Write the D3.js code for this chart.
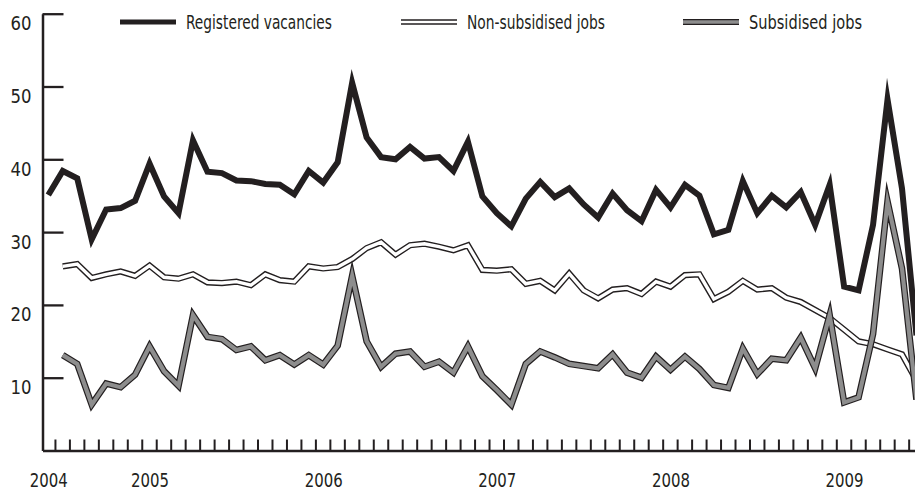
<!DOCTYPE html>
<html><head><meta charset="utf-8">
<script src="https://cdn.jsdelivr.net/npm/d3@7"></script>
<style>
body{margin:0;background:#fff}
svg{display:block}
text{font-family:"DejaVu Sans Condensed","DejaVu Sans",sans-serif;font-stretch:condensed;fill:#231f20}
</style>
</head><body>
<svg id="c" width="915" height="491"></svg>
<script>
// ---- data (monthly, June 2004 .. June 2009), thousands ----
const seriesNames = ["Registered vacancies", "Non-subsidised jobs", "Subsidised jobs"];
const vacancies = [35.1,38.4,37.4,29.0,33.1,33.3,34.3,39.4,34.9,32.6,42.6,38.3,38.1,37.1,37.0,36.6,36.5,35.2,38.4,36.8,
  39.6,50.5,43.0,40.3,40.0,41.7,40.1,40.3,38.4,42.4,34.9,32.6,30.8,34.6,36.9,34.8,36.0,33.8,32.0,35.3,
  33.0,31.5,35.8,33.4,36.5,35.0,29.7,30.3,37.0,32.6,35.0,33.4,35.5,31.0,36.5,22.5,22.0,31.0,48.2,36.0,15.8];
const nonSubsidised = [null,25.3,25.6,23.7,24.2,24.6,24.0,25.4,23.8,23.6,24.2,23.1,23.0,23.2,22.7,24.2,23.4,23.2,25.3,25.0,
  25.2,26.3,27.8,28.6,26.9,28.2,28.4,28.0,27.5,28.2,24.8,24.7,24.9,22.9,23.3,22.0,24.3,22.0,20.9,22.1,
  22.3,21.5,23.2,22.5,24.1,24.2,20.8,21.8,23.3,22.1,22.3,21.0,20.4,19.3,18.2,16.6,15.0,14.6,13.9,13.2,9.6];
const subsidised = [null,13.1,11.9,6.3,9.2,8.7,10.4,14.3,10.9,8.9,18.6,15.6,15.3,13.8,14.3,12.4,13.1,11.8,13.1,11.8,
  14.4,24.0,15.0,11.5,13.3,13.6,11.5,12.2,10.7,14.3,10.2,8.3,6.3,11.9,13.6,12.8,11.9,11.6,11.3,13.2,
  10.7,10.0,12.9,11.1,12.9,11.2,9.0,8.6,14.0,10.5,12.6,12.4,15.5,11.3,18.6,6.6,7.3,16.0,34.2,25.0,7.0];
const yearLabels = ["2004", "2005", "2006", "2007", "2008", "2009"];
const yearTickIndex = [0, 7, 19, 31, 43, 55];
const yTicks = [10, 20, 30, 40, 50, 60];

// ---- drawing ----
const INK = "#231f20", GREY = "#8d8d8d";
const svg = d3.select("#c");
const x = d3.scaleLinear().domain([-0.4, 60.5]).range([42.5, 923.7]);
const y = d3.scaleLinear().domain([0, 60]).range([450.5, 13.7]);

// y axis
const gy = svg.append("g").attr("transform", "translate(42.5,0)")
  .call(d3.axisLeft(y).tickValues(yTicks).tickSizeInner(-21).tickSizeOuter(0).tickPadding(11));
gy.select(".domain").attr("stroke", INK).attr("stroke-width", 2.5);
gy.selectAll(".tick line").attr("stroke", INK).attr("stroke-width", 2.3);
gy.selectAll(".tick text").style("font-size", "20px").attr("dy", "0.8em")
  .attr("textLength", 21).attr("lengthAdjust", "spacingAndGlyphs");

// x axis: monthly minor ticks
const monthTicks = vacancies.slice(1).map((_, k) => k + 0.46);
const gx = svg.append("g").attr("transform", "translate(0,450.5)")
  .call(d3.axisBottom(x).tickValues(monthTicks).tickSizeInner(-11).tickSizeOuter(0).tickFormat(""));
gx.select(".domain").attr("stroke", INK).attr("stroke-width", 2.5);
gx.selectAll(".tick line").attr("stroke", INK).attr("stroke-width", 2);

// x axis: year labels
const gl = svg.append("g").attr("transform", "translate(0,450.5)")
  .call(d3.axisBottom(x).tickValues(yearTickIndex).tickFormat((d, i) => yearLabels[i]).tickSize(0).tickPadding(0));
gl.select(".domain").remove();
gl.selectAll(".tick text").style("font-size", "19.5px").attr("y", 36).attr("dy", null)
  .attr("textLength", 38).attr("lengthAdjust", "spacingAndGlyphs");

// lines
const line = d3.line().defined(d => d != null).x((d, i) => x(i)).y(d => y(d));
const styles = [
  [{stroke: INK, w: 6}],
  [{stroke: INK, w: 6.2}, {stroke: "#fff", w: 3.4}],
  [{stroke: INK, w: 6.6}, {stroke: GREY, w: 4.2}]
];
const order = [1, 2, 0];
const data = [vacancies, nonSubsidised, subsidised];
order.forEach(s => {
  styles[s].forEach(st => {
    svg.append("path").datum(data[s]).attr("d", line)
      .attr("fill", "none").attr("stroke", st.stroke).attr("stroke-width", st.w)
      .attr("stroke-linejoin", "miter").attr("stroke-miterlimit", 20);
  });
});

// legend
const legendX = [120, 401, 683];
const legendTextW = [146, 138, 113];
const leg = svg.append("g");
seriesNames.forEach((name, s) => {
  const g = leg.append("g").attr("transform", `translate(${legendX[s]},22)`);
  styles[s].forEach(st => {
    g.append("line").attr("x1", 0).attr("x2", 56).attr("y1", 0).attr("y2", 0)
      .attr("stroke", st.stroke).attr("stroke-width", s === 0 ? 5 : st.w - 0.8);
  });
  g.append("text").attr("x", 66).attr("y", 7).style("font-size", "20px")
    .attr("textLength", legendTextW[s]).attr("lengthAdjust", "spacingAndGlyphs").text(name);
});
</script>
</body></html>
